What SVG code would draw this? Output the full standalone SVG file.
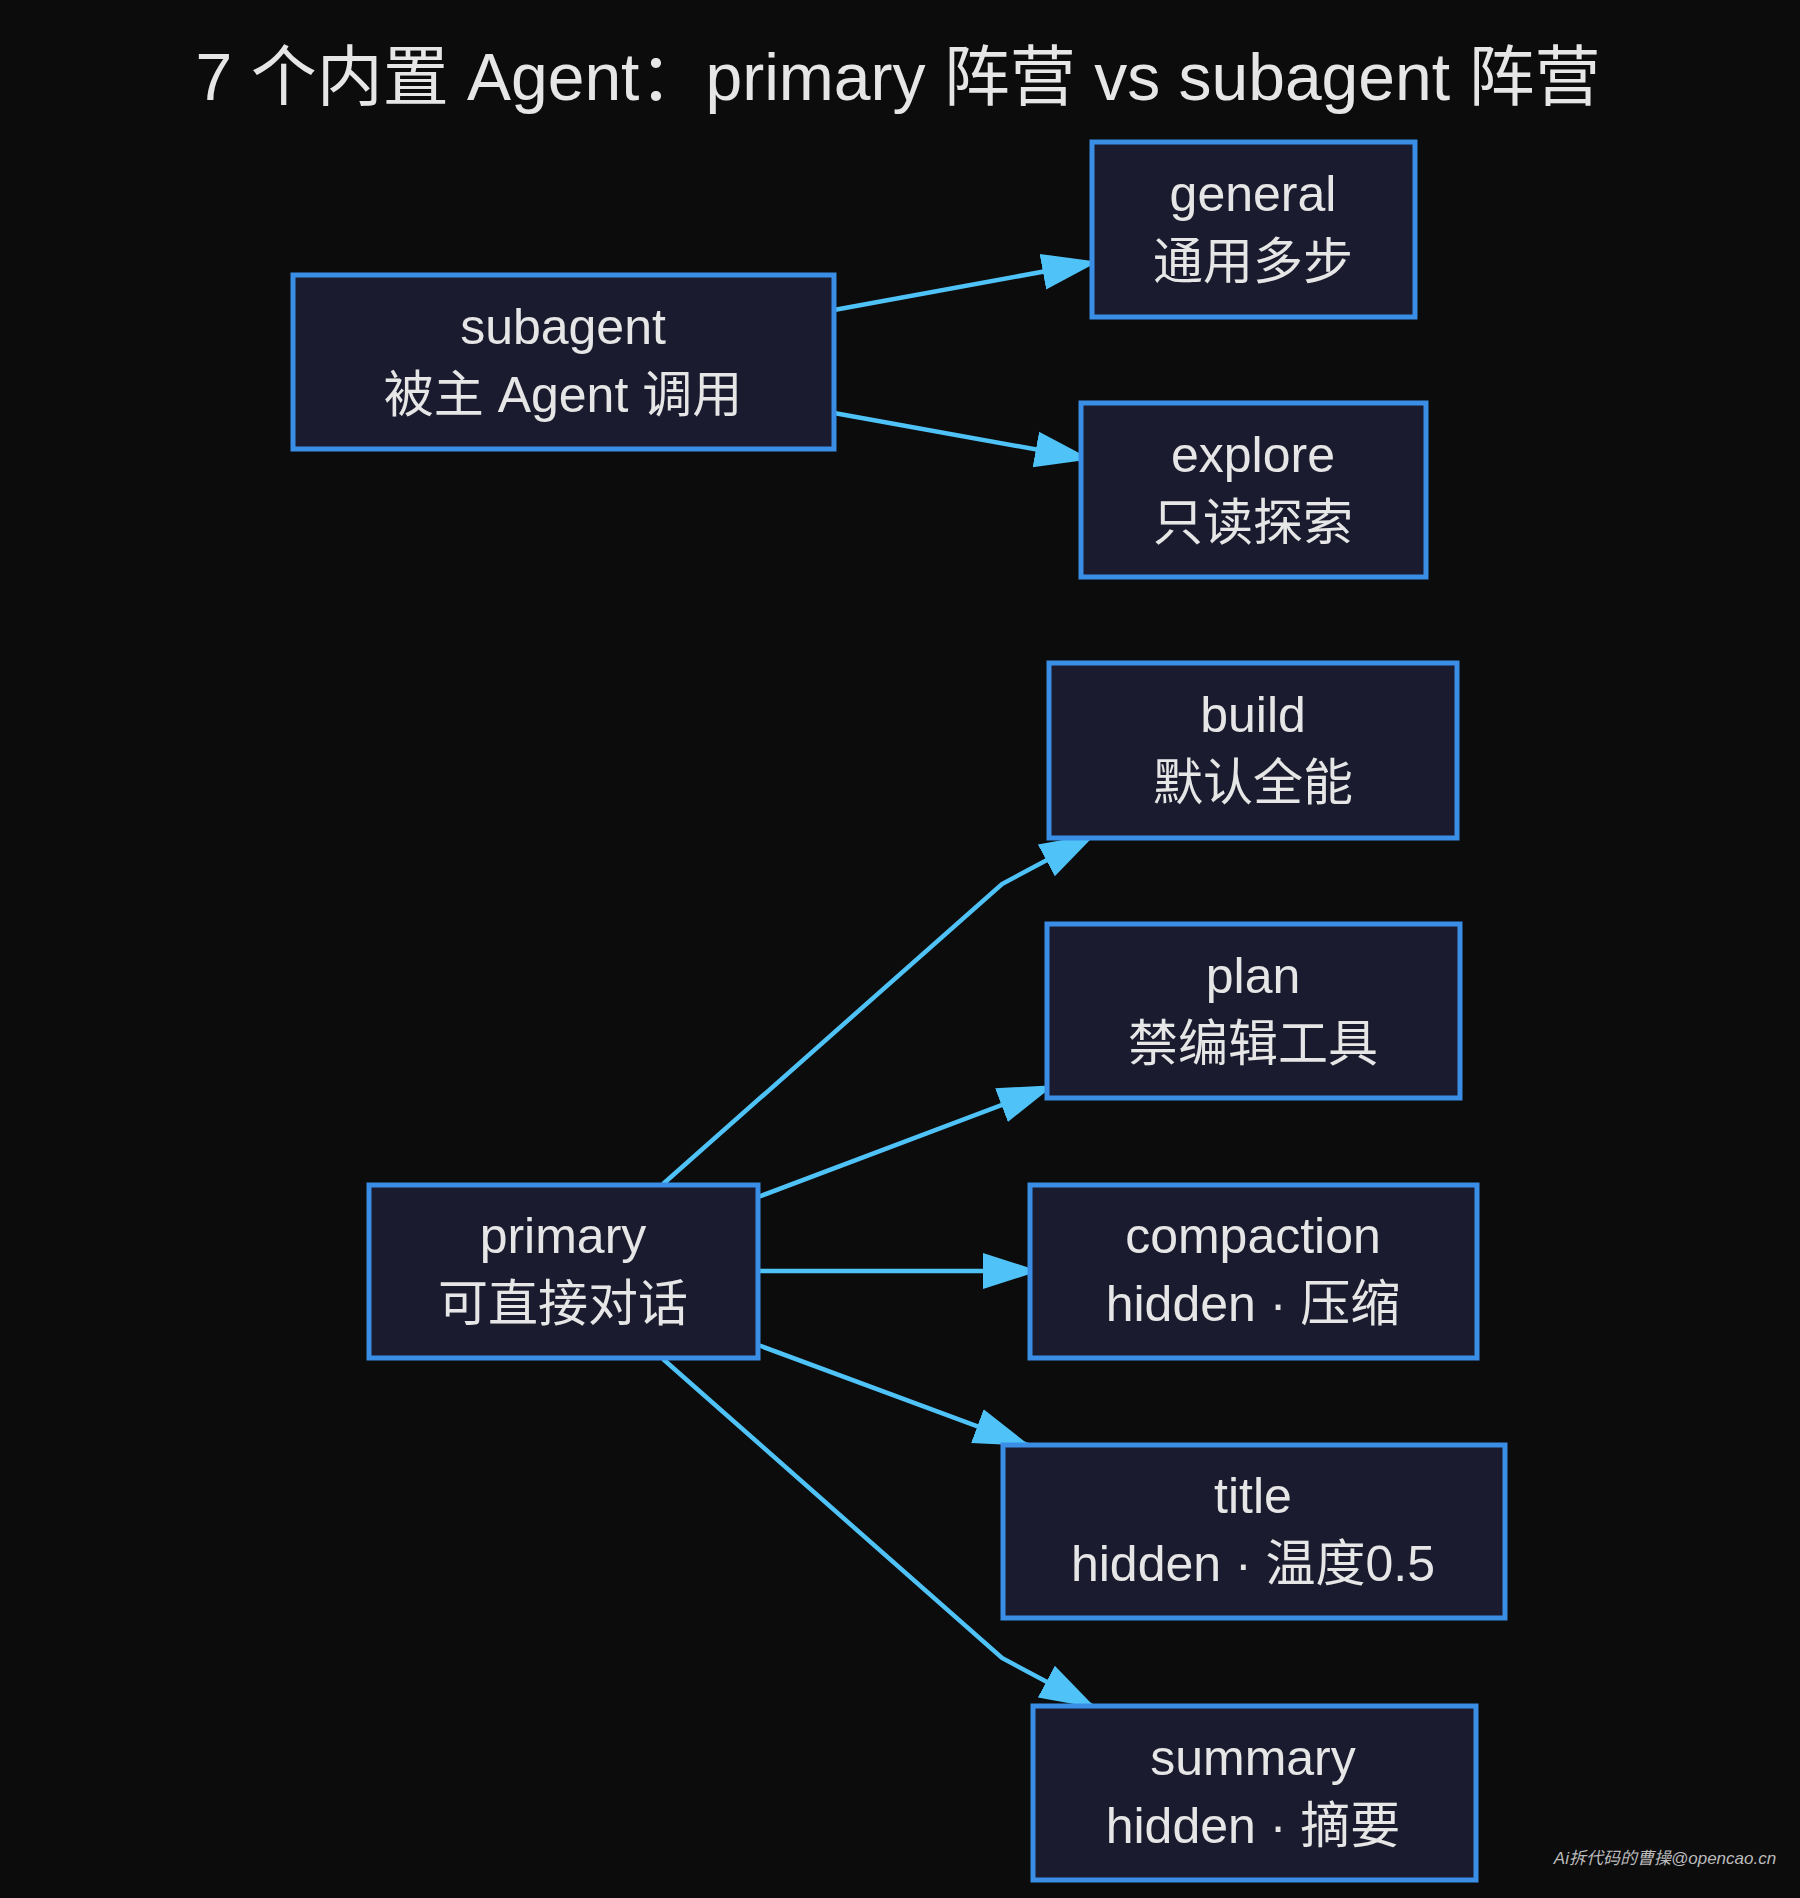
<svg xmlns="http://www.w3.org/2000/svg" width="1800" height="1898" viewBox="0 0 1800 1898">
<style>
.n rect{fill:#1a1b2e;stroke:#3a8ee6;stroke-width:5}
.n text,.t{fill:#e6e6e6;font-family:"Liberation Sans","Noto Sans CJK SC",sans-serif;text-anchor:middle;font-size:50px}
.e path{fill:none;stroke:#4fc3f7;stroke-width:4.5}
</style>
<defs><marker id="a" markerUnits="userSpaceOnUse" markerWidth="56" markerHeight="40" refX="54" refY="20" orient="auto"><path d="M0,2 L56,20 L0,38 Z" fill="#4fc3f7"/></marker></defs>
<rect width="1800" height="1898" fill="#0c0c0d"/>
<text class="t" x="898" y="100" style="font-size:66px">7 个内置 Agent：primary 阵营 vs subagent 阵营</text>
<g class="e">
<path d="M834,310 L1096,262" marker-end="url(#a)"/>
<path d="M834,413 L1089,459" marker-end="url(#a)"/>
<path d="M663,1184 L1002,884 L1094,835" marker-end="url(#a)"/>
<path d="M758,1197 L1052,1086" marker-end="url(#a)"/>
<path d="M758,1271 L1037,1271" marker-end="url(#a)"/>
<path d="M758,1345 L1028,1445" marker-end="url(#a)"/>
<path d="M663,1359 L1002,1658 L1094,1707" marker-end="url(#a)"/>
</g>
<g id="subagent" class="n"><rect x="293" y="275" width="541" height="174"/><text x="563" y="344">subagent</text><text x="563" y="412">被主 Agent 调用</text></g>
<g id="general" class="n"><rect x="1092" y="142" width="323" height="175"/><text x="1253" y="211">general</text><text x="1253" y="279">通用多步</text></g>
<g id="explore" class="n"><rect x="1081" y="403" width="345" height="174"/><text x="1253" y="472">explore</text><text x="1253" y="540">只读探索</text></g>
<g id="build" class="n"><rect x="1049" y="663" width="408" height="175"/><text x="1253" y="732">build</text><text x="1253" y="800">默认全能</text></g>
<g id="plan" class="n"><rect x="1047" y="924" width="413" height="174"/><text x="1253" y="993">plan</text><text x="1253" y="1061">禁编辑工具</text></g>
<g id="compaction" class="n"><rect x="1030" y="1185" width="447" height="173"/><text x="1253" y="1253">compaction</text><text x="1253" y="1321">hidden · 压缩</text></g>
<g id="title" class="n"><rect x="1003" y="1445" width="502" height="173"/><text x="1253" y="1513">title</text><text x="1253" y="1581">hidden · 温度0.5</text></g>
<g id="summary" class="n"><rect x="1033" y="1706" width="443" height="174"/><text x="1253" y="1775">summary</text><text x="1253" y="1843">hidden · 摘要</text></g>
<g id="primary" class="n"><rect x="369" y="1185" width="389" height="173"/><text x="563" y="1253">primary</text><text x="563" y="1321">可直接对话</text></g>
<text x="1665" y="1864" style="fill:#bbbbbb;font-family:'Liberation Sans','Noto Sans CJK SC',sans-serif;font-size:17px;font-style:italic;text-anchor:middle">Ai拆代码的曹操@opencao.cn</text>
</svg>
